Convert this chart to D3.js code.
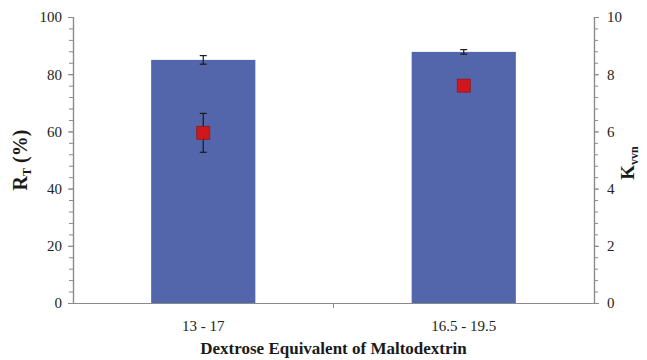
<!DOCTYPE html>
<html>
<head>
<meta charset="utf-8">
<script src="https://cdn.jsdelivr.net/npm/d3@7"></script>
<style>
  body { margin: 0; background: #fff; }
  svg text { font-family: "Liberation Serif", "DejaVu Serif", serif !important; }
</style>
</head>
<body>
<div id="chart"></div>
<script>
// data
const categories = ["13 - 17", "16.5 - 19.5"];
const rtValues = [85, 87.8];        // bars, left axis (%)
const rtErrors = [1.5, 0.8];
const kValues = [5.95, 7.6];        // squares, right axis
const kErrors = [0.68, 0];
const leftTicks = [0, 20, 40, 60, 80, 100];
const rightTicks = [0, 2, 4, 6, 8, 10];

const width = 647, height = 360;
const margin = {top: 17, right: 53, bottom: 57, left: 73};
const innerW = width - margin.left - margin.right;
const innerH = height - margin.top - margin.bottom;

let svg = d3.select("#chart")
            .append("svg")
            .attr("width", width)
            .attr("height", height)
            .append("g")
            .attr("transform", `translate(${margin.left},${margin.top})`);

//scales
let x = d3.scaleBand()
          .domain(categories)
          .range([0, innerW])
          .paddingInner(0.6)
          .paddingOuter(0.3);
let xCat = d3.scaleBand().domain(categories).range([0, innerW]);
let yL = d3.scaleLinear().domain([0, 100]).range([innerH, 0]);
let yR = d3.scaleLinear().domain([0, 10]).range([innerH, 0]);

const axisColor = "#8a8a8a";

//bars
svg.selectAll("rect.bar")
   .data(rtValues)
   .enter()
   .append("rect")
   .attr("class", "bar")
   .attr("x", (d, i) => x(categories[i]))
   .attr("y", d => yL(d))
   .attr("width", x.bandwidth())
   .attr("height", d => innerH - yL(d))
   .attr("fill", "#5466ab");

//error bars helper
function errBar(g, cx, yTop, yBot, capW) {
  g.append("line").attr("x1", cx).attr("x2", cx).attr("y1", yTop).attr("y2", yBot);
  g.append("line").attr("x1", cx - capW).attr("x2", cx + capW).attr("y1", yTop).attr("y2", yTop);
  g.append("line").attr("x1", cx - capW).attr("x2", cx + capW).attr("y1", yBot).attr("y2", yBot);
}

let errG = svg.append("g").attr("stroke", "#1a1a1a").attr("stroke-width", 1.2);
rtValues.forEach(function(d, i) {
  let cx = x(categories[i]) + x.bandwidth() / 2;
  errBar(errG, cx, yL(d + rtErrors[i]), yL(d - rtErrors[i]), 3.5);
});

//squares with error bars (right axis)
kValues.forEach(function(d, i) {
  let cx = x(categories[i]) + x.bandwidth() / 2;
  if (kErrors[i] > 0) errBar(errG, cx, yR(d + kErrors[i]), yR(d - kErrors[i]), 3.5);
});
const sq = 13;
svg.selectAll("rect.marker")
   .data(kValues)
   .enter()
   .append("rect")
   .attr("class", "marker")
   .attr("x", (d, i) => x(categories[i]) + x.bandwidth() / 2 - sq / 2)
   .attr("y", d => yR(d) - sq / 2)
   .attr("width", sq)
   .attr("height", sq)
   .attr("fill", "#d0181c")
   .attr("stroke", "#8e1a1a")
   .attr("stroke-width", 0.8);

//left axis
let leftAxis = svg.append("g")
   .call(d3.axisLeft(yL).tickValues(leftTicks).tickSize(5).tickPadding(6));
let leftMinor = svg.append("g")
   .call(d3.axisLeft(yL).tickValues(d3.range(0, 101, 4)).tickSize(4).tickFormat(""));

//right axis
let rightAxis = svg.append("g")
   .attr("transform", `translate(${innerW},0)`)
   .call(d3.axisRight(yR).tickValues(rightTicks).tickSize(5).tickPadding(8));
let rightMinor = svg.append("g")
   .attr("transform", `translate(${innerW},0)`)
   .call(d3.axisRight(yR).tickValues(d3.range(0, 10.01, 0.4)).tickSize(4).tickFormat(""));

//bottom axis, tick between categories
let bottom = svg.append("g")
   .attr("transform", `translate(0,${innerH})`)
   .call(d3.axisBottom(xCat).tickSize(0).tickPadding(17));
svg.append("line")
   .attr("x1", xCat.bandwidth()).attr("x2", xCat.bandwidth())
   .attr("y1", innerH).attr("y2", innerH + 5)
   .attr("stroke", axisColor);

[leftAxis, leftMinor, rightAxis, rightMinor, bottom].forEach(function(g) {
  g.attr("font-family", null).attr("font-size", null);
  g.selectAll("path.domain").attr("stroke", axisColor).attr("stroke-width", 1.2);
  g.selectAll("line").attr("stroke", axisColor);
  g.selectAll("text")
   .attr("fill", "#222")
   .style("font-size", "15px");
});
bottom.select("path.domain").attr("d", `M0,0.5H${innerW}`);

//axis titles
let yLabel = svg.append("text")
   .attr("transform", `translate(-46,${innerH / 2}) rotate(-90)`)
   .attr("text-anchor", "middle")
   .style("font-size", "20px")
   .style("font-weight", "bold")
   .attr("fill", "#1a1a1a");
yLabel.append("tspan").text("R");
yLabel.append("tspan").attr("dy", 4).style("font-size", "12px").text("T");
yLabel.append("tspan").attr("dy", -4).text(" (%)");

let kLabel = svg.append("text")
   .attr("transform", `translate(${innerW + 40},${innerH / 2 + 3}) rotate(-90)`)
   .attr("text-anchor", "middle")
   .style("font-size", "19px")
   .style("font-weight", "bold")
   .attr("fill", "#1a1a1a");
kLabel.append("tspan").text("K");
kLabel.append("tspan").attr("dy", 4).style("font-size", "12px").text("vvn");

svg.append("text")
   .attr("x", innerW / 2)
   .attr("y", innerH + 51)
   .attr("text-anchor", "middle")
   .style("font-size", "17px")
   .style("font-weight", "bold")
   .attr("fill", "#1a1a1a")
   .text("Dextrose Equivalent  of Maltodextrin");
</script>
</body>
</html>
